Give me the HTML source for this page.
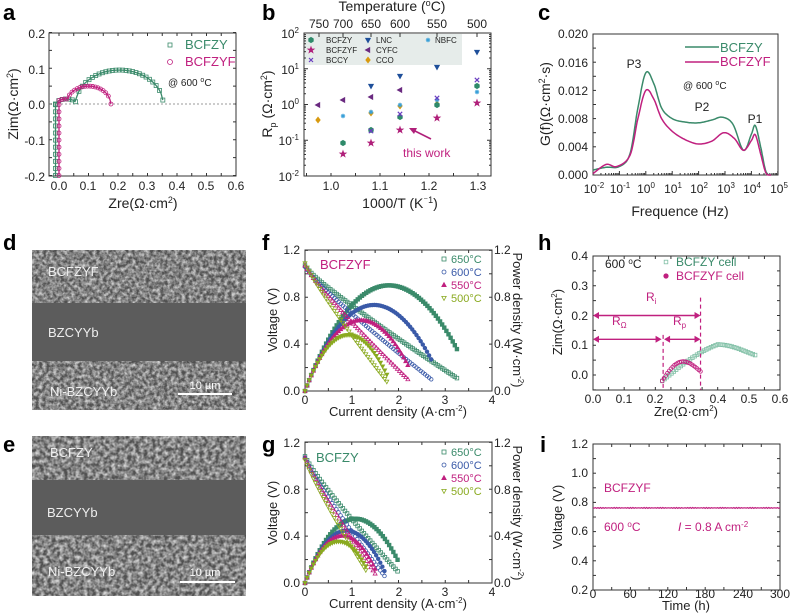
<!DOCTYPE html>
<html><head><meta charset="utf-8"><style>
html,body{margin:0;padding:0;background:#fff;}
svg{display:block;font-family:"Liberation Sans",Arial,sans-serif;}
.t{font-size:12px;fill:#222}
.tt{font-size:14px;fill:#222}
.pl{font-size:22px;font-weight:bold;fill:#000}
</style></head><body>
<svg id="s" width="791" height="614" viewBox="0 0 791 614" xmlns="http://www.w3.org/2000/svg">
<defs>
<filter id="n1" x="0" y="0" width="100%" height="100%">
<feTurbulence type="fractalNoise" baseFrequency="0.28" numOctaves="3" seed="3"/>
<feColorMatrix type="matrix" values="0 0 0 0 0.64  0 0 0 0 0.64  0 0 0 0 0.64  0 0 0 1.8 -0.5"/>
</filter>
<filter id="n2" x="0" y="0" width="100%" height="100%">
<feTurbulence type="fractalNoise" baseFrequency="0.25" numOctaves="3" seed="7"/>
<feColorMatrix type="matrix" values="0 0 0 0 0.66  0 0 0 0 0.66  0 0 0 0 0.66  0 0 0 1.8 -0.5"/>
</filter>
</defs>

<!-- panel labels -->
<text class="pl" x="3" y="20">a</text>
<text class="pl" x="262" y="20">b</text>
<text class="pl" x="538" y="20">c</text>
<text class="pl" x="3" y="250">d</text>
<text class="pl" x="262" y="250">f</text>
<text class="pl" x="538" y="250">h</text>
<text class="pl" x="3" y="452">e</text>
<text class="pl" x="262" y="452">g</text>
<text class="pl" x="540" y="452">i</text>

<!-- SEM d -->
<rect x="32" y="250" width="214" height="160" fill="#505050"/>
<rect x="32" y="250" width="214" height="160" filter="url(#n1)"/>
<rect x="32" y="303" width="214" height="58" fill="#5c5c5c"/>
<text x="48" y="276" font-size="13" fill="#eee">BCFZYF</text>
<text x="48" y="337" font-size="13" fill="#eee">BZCYYb</text>
<text x="50" y="396" font-size="13" fill="#eee">Ni-BZCYYb</text>
<line x1="178" y1="394" x2="232" y2="394" stroke="#fff" stroke-width="2"/>
<text x="205" y="389" font-size="11" fill="#fff" text-anchor="middle">10 µm</text>
<!-- SEM e -->
<rect x="32" y="436" width="214" height="160" fill="#505050"/>
<rect x="32" y="436" width="214" height="160" filter="url(#n2)"/>
<rect x="32" y="480" width="214" height="55" fill="#5c5c5c"/>
<text x="50" y="457" font-size="13" fill="#eee">BCFZY</text>
<text x="47" y="517" font-size="13" fill="#eee">BZCYYb</text>
<text x="48" y="576" font-size="13" fill="#eee">Ni-BZCYYb</text>
<line x1="180" y1="582" x2="235" y2="582" stroke="#fff" stroke-width="2"/>
<text x="205" y="576" font-size="11" fill="#fff" text-anchor="middle">10 µm</text>

<!-- panel a text -->
<g class="t" text-anchor="end">
<text x="45" y="38">0.2</text><text x="45" y="74">0.1</text><text x="45" y="109">0.0</text><text x="45" y="145">-0.1</text><text x="45" y="181">-0.2</text>
</g>
<g class="t" text-anchor="middle">
<text x="59" y="190">0.0</text><text x="88" y="190">0.1</text><text x="118" y="190">0.2</text><text x="147" y="190">0.3</text><text x="177" y="190">0.4</text><text x="206" y="190">0.5</text><text x="236" y="190">0.6</text>
</g>
<text class="tt" x="143" y="208" text-anchor="middle">Zre(Ω·cm<tspan font-size="9" dy="-5">2</tspan><tspan dy="5">)</tspan></text>
<text class="tt" transform="translate(18,104) rotate(-90)" text-anchor="middle">Zim(Ω·cm<tspan font-size="9" dy="-5">2</tspan><tspan dy="5">)</tspan></text>
<text x="185" y="49" font-size="13" fill="#3a8a6a">BCFZY</text>
<text x="185" y="66" font-size="13" fill="#c0207f">BCFZYF</text>
<text x="168" y="86" font-size="10" fill="#222">@ 600 <tspan font-size="7" dy="-4">o</tspan><tspan dy="4">C</tspan></text>

<!-- panel b text -->
<text class="tt" x="392" y="11" text-anchor="middle">Temperature (<tspan font-size="9" dy="-5">o</tspan><tspan dy="5">C)</tspan></text>
<g class="t" text-anchor="middle">
<text x="319" y="28">750</text><text x="343" y="28">700</text><text x="371" y="28">650</text><text x="400" y="28">600</text><text x="437" y="28">550</text><text x="477" y="28">500</text>
<text x="331" y="190">1.0</text><text x="380" y="190">1.1</text><text x="429" y="190">1.2</text><text x="478" y="190">1.3</text>
</g>
<g class="t" text-anchor="end">
<text x="299" y="38">10<tspan font-size="8" dy="-5">2</tspan></text>
<text x="299" y="74">10<tspan font-size="8" dy="-5">1</tspan></text>
<text x="299" y="109">10<tspan font-size="8" dy="-5">0</tspan></text>
<text x="299" y="145">10<tspan font-size="8" dy="-5">-1</tspan></text>
<text x="299" y="181">10<tspan font-size="8" dy="-5">-2</tspan></text>
</g>
<text class="tt" x="400" y="208" text-anchor="middle">1000/T (K<tspan font-size="9" dy="-5">⁻1</tspan><tspan dy="5">)</tspan></text>
<text class="tt" transform="translate(272,104) rotate(-90)" text-anchor="middle">R<tspan font-size="9" dy="4">p</tspan><tspan dy="-4"> (Ω·cm</tspan><tspan font-size="9" dy="-5">2</tspan><tspan dy="5">)</tspan></text>
<rect x="305" y="34" width="157" height="31" fill="#e6ecea"/>
<g font-size="8" fill="#222">
<text x="326" y="43">BCFZY</text><text x="326" y="53">BCFZYF</text><text x="326" y="63">BCCY</text>
<text x="376" y="43">LNC</text><text x="376" y="53">CYFC</text><text x="376" y="63">CCO</text>
<text x="435" y="43">NBFC</text>
</g>
<text x="403" y="157" font-size="12" fill="#c0207f">this work</text>

<!-- panel c text -->
<g class="t" text-anchor="end">
<text x="588" y="38">0.020</text><text x="588" y="67">0.016</text><text x="588" y="95">0.012</text><text x="588" y="123">0.008</text><text x="588" y="151">0.004</text><text x="588" y="179">0.000</text>
</g>
<g class="t" text-anchor="middle">
<text x="594" y="193">10<tspan font-size="8" dy="-5">-2</tspan></text>
<text x="620" y="193">10<tspan font-size="8" dy="-5">-1</tspan></text>
<text x="646" y="193">10<tspan font-size="8" dy="-5">0</tspan></text>
<text x="673" y="193">10<tspan font-size="8" dy="-5">1</tspan></text>
<text x="699" y="193">10<tspan font-size="8" dy="-5">2</tspan></text>
<text x="726" y="193">10<tspan font-size="8" dy="-5">3</tspan></text>
<text x="752" y="193">10<tspan font-size="8" dy="-5">4</tspan></text>
<text x="779" y="193">10<tspan font-size="8" dy="-5">5</tspan></text>
</g>
<text class="tt" x="680" y="216" text-anchor="middle">Frequence (Hz)</text>
<text class="tt" transform="translate(550,104) rotate(-90)" text-anchor="middle">G(f)(Ω·cm<tspan font-size="9" dy="-5">2</tspan><tspan dy="5">·s)</tspan></text>
<text x="720" y="52" font-size="13" fill="#3a8a6a">BCFZY</text>
<text x="720" y="66" font-size="13" fill="#c0207f">BCFZYF</text>
<text x="683" y="89" font-size="10" fill="#222">@ 600 <tspan font-size="7" dy="-4">o</tspan><tspan dy="4">C</tspan></text>
<text x="634" y="68" font-size="12" fill="#222" text-anchor="middle">P3</text>
<text x="702" y="111" font-size="12" fill="#222" text-anchor="middle">P2</text>
<text x="755" y="123" font-size="12" fill="#222" text-anchor="middle">P1</text>

<!-- panel f text -->
<g class="t" text-anchor="end">
<text x="300" y="254">1.2</text><text x="300" y="301">0.8</text><text x="300" y="348">0.4</text><text x="300" y="395">0.0</text>
<text x="300" y="447">1.2</text><text x="300" y="494">0.8</text><text x="300" y="540">0.4</text><text x="300" y="587">0.0</text>
</g>
<g class="t">
<text x="494" y="254">1.2</text><text x="494" y="301">0.8</text><text x="494" y="348">0.4</text><text x="494" y="395">0.0</text>
<text x="494" y="447">1.2</text><text x="494" y="494">0.8</text><text x="494" y="540">0.4</text><text x="494" y="587">0.0</text>
</g>
<g class="t" text-anchor="middle">
<text x="305" y="404">0</text><text x="352" y="404">1</text><text x="399" y="404">2</text><text x="445" y="404">3</text><text x="492" y="404">4</text>
<text x="305" y="596">0</text><text x="352" y="596">1</text><text x="399" y="596">2</text><text x="445" y="596">3</text><text x="492" y="596">4</text>
</g>
<text x="398" y="416" font-size="13" fill="#222" text-anchor="middle">Current density (A·cm<tspan font-size="8" dy="-5">-2</tspan><tspan dy="5">)</tspan></text>
<text x="398" y="608" font-size="13" fill="#222" text-anchor="middle">Current density (A·cm<tspan font-size="8" dy="-5">-2</tspan><tspan dy="5">)</tspan></text>
<text transform="translate(277,320) rotate(-90)" font-size="13" fill="#222" text-anchor="middle">Voltage (V)</text>
<text transform="translate(277,513) rotate(-90)" font-size="13" fill="#222" text-anchor="middle">Voltage (V)</text>
<text transform="translate(513,320) rotate(90)" font-size="13" fill="#222" text-anchor="middle">Power density (W·cm<tspan font-size="8" dy="-5">-2</tspan><tspan dy="5">)</tspan></text>
<text transform="translate(513,513) rotate(90)" font-size="13" fill="#222" text-anchor="middle">Power density (W·cm<tspan font-size="8" dy="-5">-2</tspan><tspan dy="5">)</tspan></text>
<text x="320" y="269" font-size="13" fill="#c0207f">BCFZYF</text>
<text x="316" y="462" font-size="13" fill="#3a8a6a">BCFZY</text>
<g font-size="11">
<text x="451" y="263" fill="#3a8a6a">650°C</text><text x="451" y="276" fill="#3a5aa8">600°C</text><text x="451" y="289" fill="#c0207f">550°C</text><text x="451" y="302" fill="#8aaa20">500°C</text>
<text x="451" y="456" fill="#3a8a6a">650°C</text><text x="451" y="469" fill="#3a5aa8">600°C</text><text x="451" y="482" fill="#c0207f">550°C</text><text x="451" y="495" fill="#8aaa20">500°C</text>
</g>

<!-- panel h text -->
<g class="t" text-anchor="end">
<text x="588" y="260">0.4</text><text x="588" y="290">0.3</text><text x="588" y="320">0.2</text><text x="588" y="349">0.1</text><text x="588" y="379">0.0</text>
</g>
<g class="t" text-anchor="middle">
<text x="593" y="403">0.0</text><text x="624" y="403">0.1</text><text x="655" y="403">0.2</text><text x="687" y="403">0.3</text><text x="718" y="403">0.4</text><text x="749" y="403">0.5</text><text x="780" y="403">0.6</text>
</g>
<text x="686" y="416" font-size="13" fill="#222" text-anchor="middle">Zre(Ω·cm<tspan font-size="8" dy="-5">2</tspan><tspan dy="5">)</tspan></text>
<text transform="translate(562,322) rotate(-90)" font-size="13" fill="#222" text-anchor="middle">Zim(Ω·cm<tspan font-size="8" dy="-5">2</tspan><tspan dy="5">)</tspan></text>
<text x="605" y="268" font-size="12" fill="#222">600 <tspan font-size="8" dy="-4">o</tspan><tspan dy="4">C</tspan></text>
<text x="676" y="266" font-size="12" fill="#3a8a6a">BCFZY cell</text>
<text x="676" y="280" font-size="12" fill="#c0207f">BCFZYF cell</text>
<text x="646" y="301" font-size="12" fill="#c0207f">R<tspan font-size="8" dy="3">i</tspan></text>
<text x="612" y="325" font-size="12" fill="#c0207f">R<tspan font-size="8" dy="3">Ω</tspan></text>
<text x="673" y="325" font-size="12" fill="#c0207f">R<tspan font-size="8" dy="3">p</tspan></text>

<!-- panel i text -->
<g class="t" text-anchor="end">
<text x="588" y="448">1.2</text><text x="588" y="477">1.0</text><text x="588" y="506">0.8</text><text x="588" y="535">0.6</text><text x="588" y="565">0.4</text><text x="588" y="594">0.2</text>
</g>
<g class="t" text-anchor="middle">
<text x="593" y="598">0</text><text x="630" y="598">60</text><text x="668" y="598">120</text><text x="705" y="598">180</text><text x="743" y="598">240</text><text x="780" y="598">300</text>
</g>
<text x="686" y="610" font-size="13" fill="#222" text-anchor="middle">Time (h)</text>
<text transform="translate(562,517) rotate(-90)" font-size="13" fill="#222" text-anchor="middle">Voltage (V)</text>
<text x="604" y="492" font-size="12" fill="#c0207f">BCFZYF</text>
<text x="604" y="531" font-size="12" fill="#c0207f">600 <tspan font-size="8" dy="-4">o</tspan><tspan dy="4">C</tspan></text>
<text x="678" y="531" font-size="12" fill="#c0207f"><tspan font-style="italic">I</tspan> = 0.8 A cm<tspan font-size="8" dy="-4">-2</tspan></text>

<g id="g"></g>
</svg>
<script>
var NS="http://www.w3.org/2000/svg",G=document.getElementById('g');
function mk(t,a){var e=document.createElementNS(NS,t);for(var k in a)e.setAttribute(k,a[k]);G.appendChild(e);return e;}
function box(x1,y1,x2,y2){mk('rect',{x:x1,y:y1,width:x2-x1,height:y2-y1,fill:'none',stroke:'#333','stroke-width':1});}
function tx(xs,y1,y2,len){xs.forEach(function(x){mk('line',{x1:x,y1:y2,x2:x,y2:y2-len,stroke:'#333'});if(y1!==null)mk('line',{x1:x,y1:y1,x2:x,y2:y1+len,stroke:'#333'});});}
function ty(ys,x1,x2,len){ys.forEach(function(y){mk('line',{x1:x1,y1:y,x2:x1+len,y2:y,stroke:'#333'});if(x2!==null)mk('line',{x1:x2,y1:y,x2:x2-len,y2:y,stroke:'#333'});});}
function poly(pts,c,w,extra){var d=pts.map(function(p,i){return (i?'L':'M')+p[0].toFixed(1)+' '+p[1].toFixed(1)}).join('');var a={d:d,fill:'none',stroke:c,'stroke-width':w||1.2};for(var k in extra)a[k]=extra[k];mk('path',a);}
function M(type,x,y,c,s,fill){s=s||2.2;var f=fill?c:'none',o={stroke:c,'stroke-width':0.8,fill:f};
 if(type=='sq'){o.x=x-s;o.y=y-s;o.width=2*s;o.height=2*s;mk('rect',o);}
 else if(type=='ci'){o.cx=x;o.cy=y;o.r=s;mk('circle',o);}
 else{var p;
  if(type=='tu')p=[[x,y-s*1.2],[x+s*1.1,y+s*0.8],[x-s*1.1,y+s*0.8]];
  if(type=='td')p=[[x,y+s*1.2],[x+s*1.1,y-s*0.8],[x-s*1.1,y-s*0.8]];
  if(type=='tl')p=[[x-s*1.2,y],[x+s*0.8,y-s*1.1],[x+s*0.8,y+s*1.1]];
  if(type=='di')p=[[x,y-s*1.3],[x+s,y],[x,y+s*1.3],[x-s,y]];
  if(type=='hx'){p=[];for(var i=0;i<6;i++){var a=Math.PI/3*i+Math.PI/6;p.push([x+s*1.2*Math.cos(a),y+s*1.2*Math.sin(a)]);}}
  if(type=='st'){p=[];for(var i=0;i<10;i++){var a=-Math.PI/2+Math.PI/5*i,r=i%2?s*0.6:s*1.5;p.push([x+r*Math.cos(a),y+r*Math.sin(a)]);}}
  if(type=='x'){mk('path',{d:'M'+(x-s)+' '+(y-s)+'L'+(x+s)+' '+(y+s)+'M'+(x+s)+' '+(y-s)+'L'+(x-s)+' '+(y+s),stroke:c,'stroke-width':1.2});return;}
  if(type=='as'){mk('path',{d:'M'+(x-s)+' '+y+'L'+(x+s)+' '+y+'M'+x+' '+(y-s)+'L'+x+' '+(y+s)+'M'+(x-s*.7)+' '+(y-s*.7)+'L'+(x+s*.7)+' '+(y+s*.7)+'M'+(x+s*.7)+' '+(y-s*.7)+'L'+(x-s*.7)+' '+(y+s*.7),stroke:c,'stroke-width':1});return;}
  o.points=p.map(function(q){return q.join(',')}).join(' ');mk('polygon',o);}
}
var GR='#3a8a6a',MG='#c0207f',BL='#3a5aa8',YG='#8aaa20';
function rng(a,b,n){var r=[];for(var i=0;i<=n;i++)r.push(a+(b-a)*i/n);return r;}
function ticks(a,b,st){var r=[];for(var v=a;v<=b+1e-9;v+=st)r.push(v);return r;}

// ---- panel a
(function(){var X=function(v){return 59+v*295},Y=function(v){return 104-v*357.5};
box(49,33,236,176);
tx(ticks(0,0.6,0.05).map(X),33,176,3);ty(ticks(-0.2,0.2,0.05).map(Y),49,236,3);
mk('line',{x1:49,y1:104,x2:236,y2:104,stroke:'#777','stroke-dasharray':'2,2','stroke-width':0.8});
function arcs(c1,r1,h1,c2,r2,h2,x){var a=0,b=0;if(Math.abs(x-c1)<r1)a=h1*Math.sqrt(1-Math.pow((x-c1)/r1,2));if(Math.abs(x-c2)<r2)b=h2*Math.sqrt(1-Math.pow((x-c2)/r2,2));return Math.max(a,b);}
[[GR,'sq',-0.012,0.205,0.148,0.095,0.352,32],[MG,'ci',0.0,0.1,0.075,0.05,0.176,20]].forEach(function(s){
 var pts=[],mp=[];
 rng(-0.2,-0.002,10).forEach(function(y){pts.push([X(s[2]),Y(y)]);mp.push([X(s[2]),Y(y)]);});
 rng(s[2],s[6],60).forEach(function(x){var y=arcs(s[3],s[4],s[5],0.025,0.035,0.014,x);pts.push([X(x),Y(y)]);});
 rng(s[2],s[6],s[7]).forEach(function(x){var y=arcs(s[3],s[4],s[5],0.025,0.035,0.014,x);mp.push([X(x),Y(y)]);});
 mp.forEach(function(p){M(s[1],p[0],p[1],s[0],2,false);});poly(pts,s[0],1.3);
});
M('sq',170,45,GR,2);M('ci',170,62,MG,2.5);
})();

// ---- panel b
(function(){box(304,33,491,176);
var X=function(v){return 331+(v-1)*490};
tx([0.95,1,1.05,1.1,1.15,1.2,1.25,1.3].map(X),null,176,3);
[319,343,371,400,437,477].forEach(function(x){mk('line',{x1:x,y1:33,x2:x,y2:37,stroke:'#333'})});
for(var d=0;d<4;d++){ty([33+d*35.75],304,491,4);for(var k=2;k<10;k++)ty([33+(d+1)*35.75-Math.log10(k)*35.75],304,491,2);}
var C={BCFZY:['hx','#2e8a6a',true],BCFZYF:['st','#b0207a',true],BCCY:['x','#6a3ec0'],LNC:['td','#1f4f9a',true],CYFC:['tl','#6a2a80',true],CCO:['di','#d89a10',true],NBFC:['as','#3aa0d8']};
var P=[['CYFC',318,105],['CYFC',343,100],['CYFC',371,97],['CYFC',400,90],['CCO',318,120],['CCO',371,113],['CCO',400,106],['CCO',437,104],['NBFC',343,116],['NBFC',371,112],['NBFC',400,105],['NBFC',437,100],['NBFC',477,92],
['BCFZY',343,143],['BCFZY',371,130],['BCFZY',400,117],['BCFZY',437,105],['BCFZY',477,86],['BCFZYF',343,154],['BCFZYF',371,143],['BCFZYF',400,130],['BCFZYF',437,118],['BCFZYF',477,103],
['BCCY',371,131],['BCCY',400,114],['BCCY',437,98],['BCCY',477,80],['LNC',371,86],['LNC',400,76],['LNC',437,67],['LNC',477,52]];
P.forEach(function(p){var c=C[p[0]];M(c[0],p[1],p[2],c[1],2.2,c[2]);});
M('hx',311,40,C.BCFZY[1],2.2,true);M('st',311,50,C.BCFZYF[1],2.2,true);M('x',311,60,C.BCCY[1],2);
M('td',368,40,C.LNC[1],2.2,true);M('tl',368,50,C.CYFC[1],2.2,true);M('di',368,60,C.CCO[1],2.2,true);M('as',428,40,C.NBFC[1],2.2);
mk('path',{d:'M431 139 L411 129',stroke:'#b0207a','stroke-width':1.6});mk('path',{d:'M409 128 L417 128 L414 134Z',fill:'#b0207a'});
})();

// ---- panel c
(function(){box(593,34,778,175);
var X=function(l){return 593+(l+2)*26.4},Y=function(g){return 175-g/0.02*141};
for(var d=-2;d<5;d++){tx([X(d)],null,175,4);for(var k=2;k<10;k++)tx([X(d+Math.log10(k))],null,175,2);}
tx([X(5)],null,175,4);ty(ticks(0,0.02,0.002).map(Y),593,null,3);
function cr(a){var o=[];for(var i=0;i<a.length-1;i++){var p0=a[Math.max(i-1,0)],p1=a[i],p2=a[i+1],p3=a[Math.min(i+2,a.length-1)];for(var t=0;t<1;t+=0.1){var t2=t*t,t3=t2*t;var f=function(j){return 0.5*((2*p1[j])+(-p0[j]+p2[j])*t+(2*p0[j]-5*p1[j]+4*p2[j]-p3[j])*t2+(-p0[j]+3*p1[j]-3*p2[j]+p3[j])*t3)};o.push([X(f(0)),Y(Math.max(0,f(1)))]);}}o.push([X(a[a.length-1][0]),Y(a[a.length-1][1])]);return o;}
var A=[[-2,0.0007],[-1.5,0.0011],[-1,0.0012],[-0.6,0.003],[-0.3,0.0095],[0,0.0145],[0.3,0.013],[0.6,0.0095],[1,0.008],[1.5,0.0075],[2,0.0074],[2.5,0.0078],[2.9,0.0082],[3.3,0.0072],[3.7,0.0035],[4,0.0058],[4.15,0.007],[4.35,0.004],[4.55,0.0005],[4.75,0]];
var B=[[-2,0.0002],[-1.5,0.0015],[-1.1,0.0012],[-0.6,0.0028],[-0.3,0.008],[0,0.012],[0.3,0.0108],[0.6,0.008],[1,0.0062],[1.5,0.005],[2,0.0044],[2.5,0.0048],[2.95,0.006],[3.35,0.0052],[3.7,0.0035],[4,0.0049],[4.15,0.0057],[4.35,0.003],[4.55,0.0003],[4.75,0]];
poly(cr(A),GR,1.5);poly(cr(B),MG,1.5);
mk('line',{x1:685,y1:47,x2:719,y2:47,stroke:GR,'stroke-width':1.5});mk('line',{x1:685,y1:62,x2:719,y2:62,stroke:MG,'stroke-width':1.5});
})();

// ---- panels f, g
function fc(y0,sets){box(305,y0-141,492,y0);
var X=function(i){return 305+i*46.75},Y=function(v){return y0-v*117.2};
tx(ticks(0,4,0.5).map(X),y0-141,y0,3);ty(ticks(0,1.2,0.2).map(Y),305,492,3);
sets.forEach(function(s){var c=s[0],v0=s[1],ie=s[2],ve=s[3],mo=s[4];var n=Math.round(ie/0.045);
 var iv=[],pw=[];for(var k=0;k<=n;k++){var i=ie*k/n;var lin=v0-(v0-ve)*i/ie;var v=lin-0.02*Math.sin(Math.PI*i/ie) - 0.04*(1-Math.exp(-i*6))+0.04*(i/ie);iv.push([X(i),Y(v)]);pw.push([X(i),Y(i*v)]);}
 iv.forEach(function(p){M(mo,p[0],p[1],c,1.8,false);});pw.forEach(function(p){M(mo,p[0],p[1],c,1.8,true);});});
}
fc(391,[[GR,1.07,3.25,0.11,'sq'],[BL,1.06,2.7,0.1,'ci'],[MG,1.07,2.2,0.1,'tu'],[YG,1.09,1.75,0.08,'td']]);
fc(583,[[GR,1.08,1.98,0.1,'sq'],[BL,1.07,1.7,0.06,'ci'],[MG,1.07,1.5,0.08,'tu'],[YG,1.05,1.3,0.11,'td']]);
[[259,391],[452,583]].forEach(function(q){M('sq',444,q[0],GR,2);M('ci',444,q[0]+13,BL,2);M('tu',444,q[0]+26,MG,2,true);M('td',444,q[0]+39,YG,2);});

// ---- panel h
(function(){box(593,256,780,390);
var X=function(v){return 593+v*311.7},Y=function(v){return 375-v*297.5};
tx(ticks(0,0.6,0.05).map(X),256,390,3);ty(ticks(-0.05,0.4,0.05).map(Y),593,780,3);
var a=[],b=[];
rng(0,1,40).forEach(function(t){var x=0.222+t*0.298;var y=-0.02+0.135*Math.sin(Math.min(t*1.9,Math.PI/2))-(t>0.6?(t-0.6)*0.12:0);a.push([X(x),Y(y)]);});
rng(0,1,22).forEach(function(t){var x=0.222+t*0.123;var y=-0.02+0.06*Math.sin(t*Math.PI*0.95)*(1-0.25*t)+t*0.025;b.push([X(x),Y(y)]);});
a.forEach(function(p){M('sq',p[0],p[1],'#7fbfa5',1.8);});b.forEach(function(p){M('ci',p[0],p[1],'#c0207f',1.8,false);});
M('sq',666,262,'#7fbfa5',1.8);M('ci',666,276,'#c0207f',2.2,true);
mk('line',{x1:X(0.225),y1:Y(0.135),x2:X(0.225),y2:Y(-0.05),stroke:MG,'stroke-dasharray':'4,3','stroke-width':1.2});
mk('line',{x1:X(0.345),y1:Y(0.26),x2:X(0.345),y2:Y(-0.05),stroke:MG,'stroke-dasharray':'4,3','stroke-width':1.2});
function arr(x1,x2,y){mk('line',{x1:x1+2,y1:y,x2:x2-2,y2:y,stroke:MG,'stroke-width':1.4});mk('path',{d:'M'+x1+' '+y+'l6 -3.5v7z',fill:MG});mk('path',{d:'M'+x2+' '+y+'l-6 -3.5v7z',fill:MG});}
arr(X(0),X(0.345),Y(0.2));arr(X(0),X(0.22),Y(0.12));arr(X(0.228),X(0.345),Y(0.12));
})();

// ---- panel i
(function(){box(593,444,780,590);
var X=function(t){return 593+t*0.6233},Y=function(v){return 590-(v-0.2)*146};
tx(ticks(0,300,30).map(X),444,590,3);ty(ticks(0.2,1.2,0.1).map(Y),593,780,3);
var p=[];for(var t=0;t<=300;t+=2)p.push([X(t),Y(0.762+(Math.sin(t*1.7)*0.003))]);poly(p,MG,1.2);
})();
</script>
</body></html>
